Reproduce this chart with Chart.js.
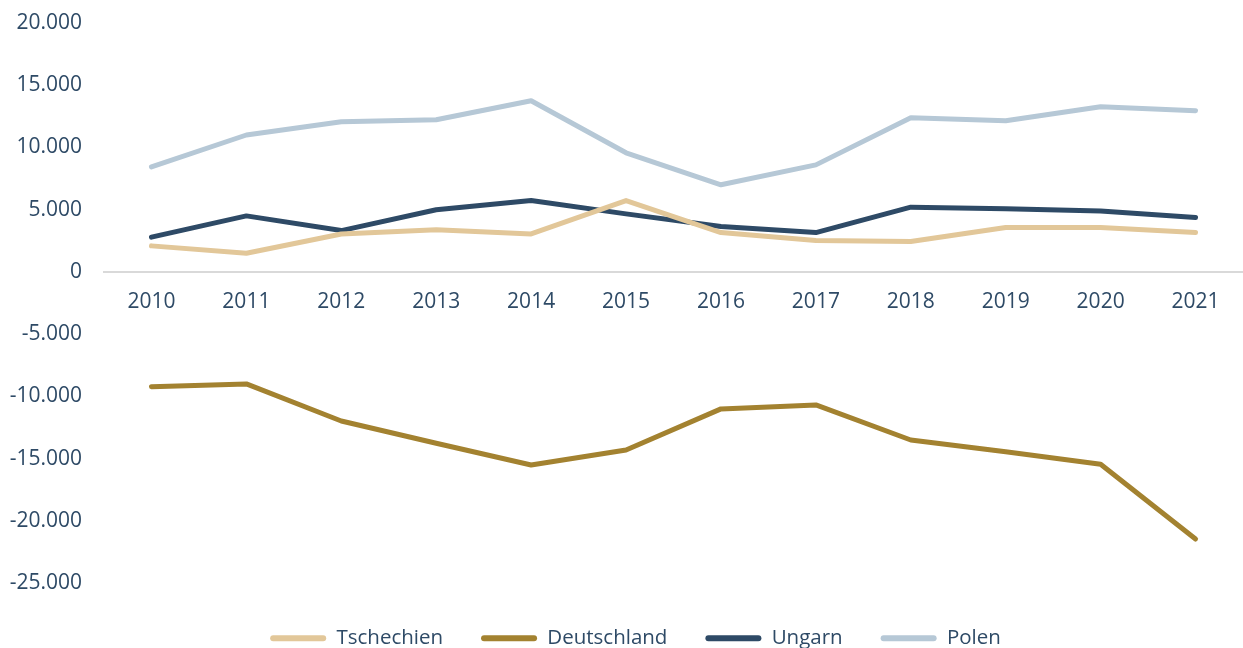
<!DOCTYPE html>
<html>
<head>
<meta charset="utf-8">
<script src="https://cdn.jsdelivr.net/npm/chart.js@4/dist/chart.umd.min.js"></script>
<style>
  html, body { margin: 0; padding: 0; background: #ffffff; }
  #wrap { width: 1243px; height: 648px; }
</style>
</head>
<body>
<div id="wrap"><canvas id="c" width="1243" height="648"></canvas></div>
<script>
const years = ['2010','2011','2012','2013','2014','2015','2016','2017','2018','2019','2020','2021'];
const tschechien = [2090, 1500, 3050, 3380, 3050, 5730, 3160, 2520, 2440, 3560, 3560, 3160];
const deutschland = [-9220, -9000, -11980, -13770, -15520, -14310, -11010, -10690, -13510, -14450, -15460, -21470];
const ungarn = [2790, 4500, 3320, 4990, 5730, 4660, 3640, 3160, 5200, 5070, 4900, 4370];
const polen = [8440, 11000, 12060, 12220, 13750, 9570, 7000, 8600, 12380, 12140, 13270, 12950];
const seriesNames = ['Tschechien', 'Deutschland', 'Ungarn', 'Polen'];
const seriesColors = ['#E2C799', '#A38230', '#2E4A66', '#B6C8D6'];
const yTicks = [-25000, -20000, -15000, -10000, -5000, 0, 5000, 10000, 15000, 20000];

const textColor = '#2E4A66';
const font = "'Open Sans', 'Liberation Sans', sans-serif";

function fmt(v) {
  const s = Math.abs(v).toString().replace(/\B(?=(\d{3})+(?!\d))/g, '.');
  return (v < 0 ? '-' : '') + s;
}

const allSeries = [tschechien, deutschland, ungarn, polen];
const datasets = allSeries.map((d, i) => ({
  label: seriesNames[i],
  data: d,
  borderColor: seriesColors[i],
  backgroundColor: seriesColors[i],
  borderWidth: 5,
  pointRadius: 0,
  tension: 0,
  borderCapStyle: 'round',
  borderJoinStyle: 'round',
  fill: false
}));

const legendFit = {
  id: 'legendFit',
  beforeInit(chart) {
    const orig = chart.legend.fit;
    chart.legend.fit = function () { orig.call(this); this.height = 65; };
  },
  afterLayout(chart) {
    const lg = chart.legend;
    const dx = 12, dy = 7;
    lg.left += dx; lg.right += dx;
    lg.top += dy; lg.bottom += dy;
  }
};

new Chart(document.getElementById('c'), {
  type: 'line',
  data: { labels: years, datasets: datasets },
  plugins: [legendFit],
  options: {
    responsive: false,
    animation: false,
    maintainAspectRatio: false,
    layout: { padding: { top: 23, right: -4, left: 0, bottom: 0 } },
    plugins: {
      tooltip: { enabled: false },
      legend: {
        position: 'bottom',
        labels: {
          color: textColor,
          font: { family: font, size: 20.5 },
          boxWidth: 56,
          boxHeight: 6,
          padding: 38,
          useBorderRadius: true,
          borderRadius: 3,
          generateLabels: (chart) => chart.data.datasets.map((ds, i) => ({
            text: ds.label,
            fillStyle: ds.borderColor,
            strokeStyle: ds.borderColor,
            lineWidth: 0,
            fontColor: textColor,
            hidden: false,
            datasetIndex: i,
            borderRadius: 3
          }))
        }
      }
    },
    scales: {
      x: {
        type: 'category',
        position: { y: 0 },
        offset: true,
        afterFit: (scale) => { scale.height = 0; },
        grid: { display: false, drawTicks: false },
        border: { display: true, color: '#D9D9D9', width: 2 },
        ticks: { color: textColor, font: { family: font, size: 21 }, padding: 18, maxRotation: 0 }
      },
      y: {
        min: -25000,
        max: 20000,
        afterBuildTicks: (scale) => { scale.ticks = yTicks.map(v => ({ value: v })); },
        afterFit: (scale) => { scale.width = 104; scale.paddingTop = 0; scale.paddingBottom = 0; },
        grid: { display: false, drawTicks: false },
        border: { display: false },
        ticks: {
          color: textColor,
          font: { family: font, size: 21 },
          padding: 22,
          callback: (v) => fmt(v)
        }
      }
    }
  }
});
</script>
</body>
</html>
